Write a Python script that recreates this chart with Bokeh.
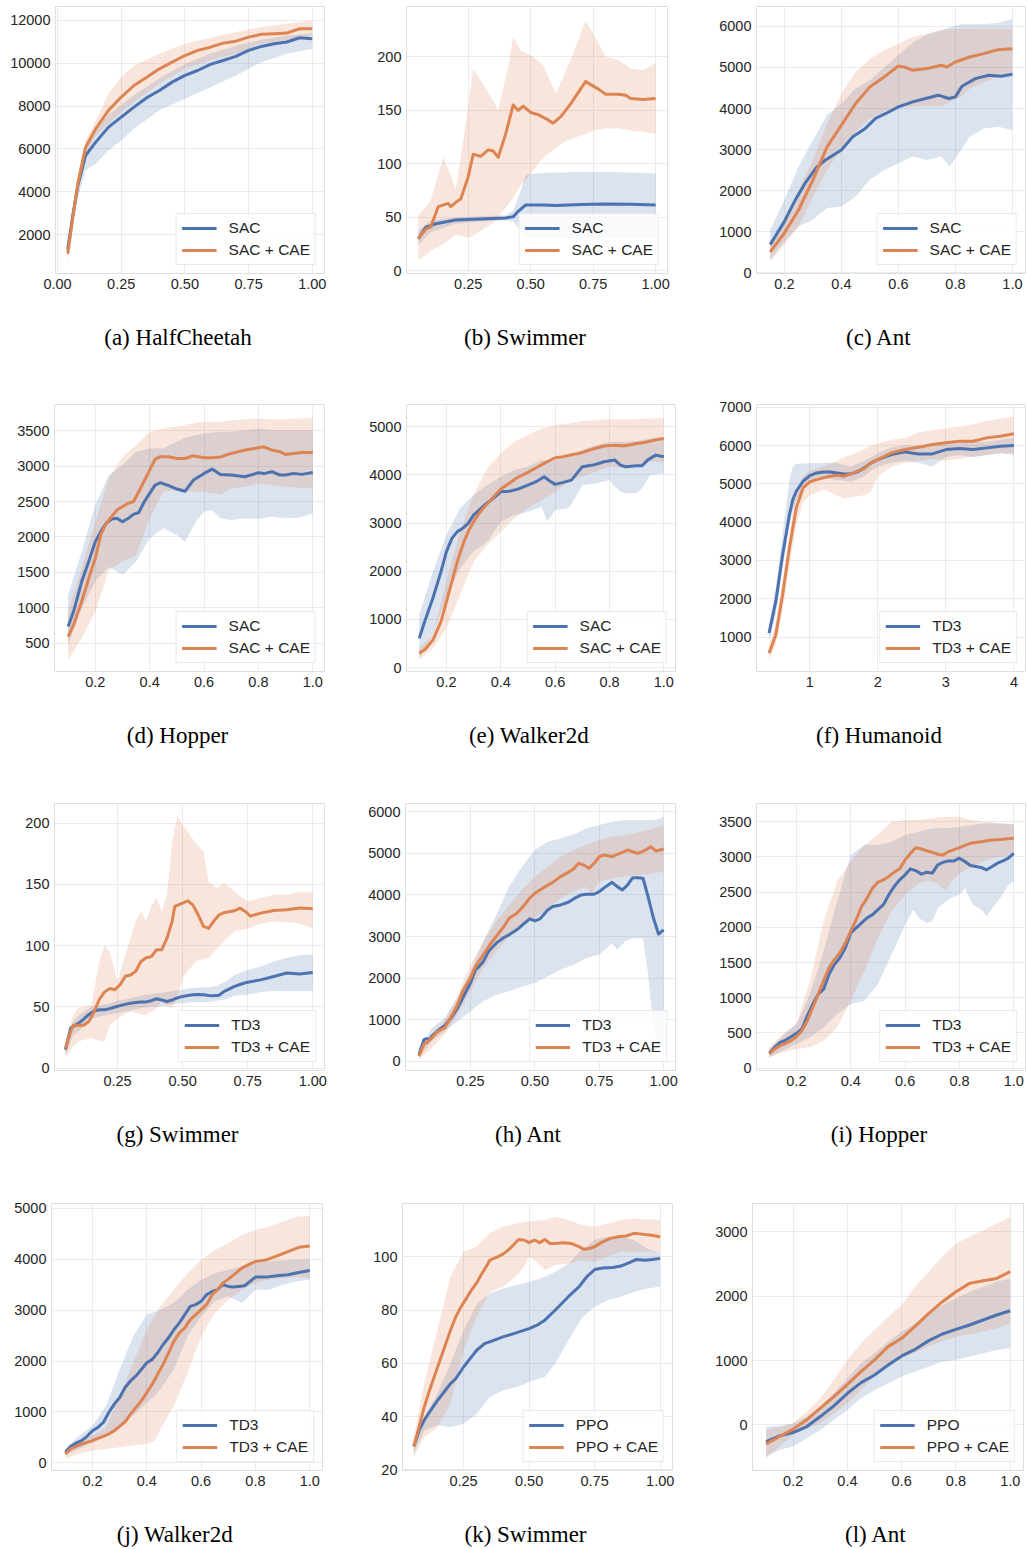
from bokeh.plotting import figure
from bokeh.layouts import column, row
from bokeh.models import Range1d, FixedTicker, NumeralTickFormatter
from bokeh.core.properties import value
from bokeh.embed import file_html
from bokeh.resources import INLINE

BLUE = "#4C72B0"
ORANGE = "#DD8452"
TICK_FONT = "Liberation Sans"
CAP_FONT = "Liberation Serif"

# ---------------- (a) HalfCheetah, SAC ----------------
a_x = [0.04, 0.06, 0.08, 0.11, 0.15, 0.2, 0.25, 0.3, 0.35, 0.4, 0.45, 0.5, 0.55, 0.6, 0.65, 0.7, 0.75, 0.8, 0.85, 0.9, 0.95, 1.0]
a_base = [1330, 2900, 4300, 5690, 6315, 7016, 7483, 7950, 8386, 8730, 9118, 9430, 9660, 9944, 10130, 10318, 10600, 10785, 10910, 10990, 11190, 11140]
a_cae = [1100, 2800, 4400, 6080, 6940, 7800, 8420, 8960, 9350, 9740, 10050, 10360, 10600, 10750, 10940, 11030, 11220, 11350, 11380, 11410, 11610, 11610]
a_bx = [0.04, 0.06, 0.08, 0.11, 0.15, 0.2, 0.25, 0.3, 0.4, 0.5, 0.6, 0.7, 0.8, 0.9, 1.0]
a_base_lo = [900, 2300, 3700, 5000, 5300, 5925, 6390, 6940, 7800, 8340, 8880, 9430, 10050, 10440, 10680]
a_base_hi = [1700, 3300, 4700, 6100, 6900, 7600, 8050, 8500, 9300, 9950, 10450, 10800, 11100, 11300, 11400]
a_cae_lo = [800, 2400, 4000, 5800, 6600, 7170, 7720, 8180, 9040, 9740, 10130, 10440, 10910, 11100, 11300]
a_cae_hi = [1300, 3200, 4800, 6400, 7300, 8570, 9350, 9900, 10440, 10910, 11190, 11455, 11690, 11840, 12000]

# ---------------- (b) Swimmer, SAC ----------------
b_base_x = [0.05, 0.08, 0.12, 0.2, 0.3, 0.4, 0.43, 0.45, 0.48, 0.55, 0.6, 0.7, 0.8, 0.9, 1.0]
b_base = [30, 40.6, 44, 47.5, 48.4, 49.4, 50.6, 55.6, 61.5, 61.5, 61, 62, 62.5, 62.2, 61.5]
b_cae_x = [0.05, 0.08, 0.1, 0.13, 0.17, 0.18, 0.205, 0.22, 0.25, 0.27, 0.3, 0.33, 0.35, 0.37, 0.4, 0.43, 0.45, 0.47, 0.5, 0.53, 0.57, 0.59, 0.62, 0.64, 0.66, 0.7, 0.72, 0.74, 0.77, 0.8, 0.85, 0.88, 0.9, 0.95, 1.0]
b_cae = [30, 39, 41, 60, 63, 60, 65, 67, 88, 109, 107, 113, 112, 106, 128, 155, 150, 154, 148, 146, 141, 138, 144, 150, 156, 170, 177, 174, 170, 165, 165, 164, 161, 160, 161]
b_base_bx = [0.05, 0.1, 0.2, 0.3, 0.4, 0.43, 0.46, 0.48, 0.55, 0.65, 0.75, 0.85, 1.0]
b_base_lo = [24, 36, 44, 46, 47, 46, 38, 31, 31, 30.5, 30.5, 30.5, 30.5]
b_base_hi = [38, 47, 50, 51, 52, 56, 75, 90, 91.5, 92, 92.5, 92, 91]
b_cae_bx = [0.05, 0.1, 0.15, 0.18, 0.2, 0.25, 0.27, 0.3, 0.35, 0.37, 0.41, 0.43, 0.46, 0.5, 0.55, 0.6, 0.63, 0.67, 0.72, 0.75, 0.8, 0.85, 0.9, 0.95, 1.0]
b_cae_lo = [9.4, 18.8, 25, 30, 34, 31, 33, 37.5, 45, 50, 62, 68, 80, 90.6, 106, 115, 120, 124, 128, 131, 133, 133, 131, 130, 128]
b_cae_hi = [51.6, 65.6, 106, 90, 75, 153, 189, 178, 159, 150, 190.6, 218.8, 206, 201.6, 192, 165.6, 181, 203, 234, 222, 200, 197, 189, 187.5, 194]

# ---------------- (c) Ant, SAC ----------------
c_base_x = [0.15, 0.2, 0.24, 0.274, 0.31, 0.344, 0.4, 0.44, 0.484, 0.52, 0.556, 0.6, 0.65, 0.695, 0.74, 0.777, 0.8, 0.823, 0.87, 0.917, 0.96, 1.0]
c_base = [687, 1253, 1800, 2199, 2546, 2748, 2990, 3314, 3516, 3759, 3880, 4042, 4163, 4244, 4325, 4244, 4284, 4543, 4729, 4810, 4786, 4834]
c_cae_x = [0.15, 0.2, 0.25, 0.3, 0.35, 0.4, 0.45, 0.5, 0.55, 0.6, 0.62, 0.65, 0.7, 0.75, 0.77, 0.8, 0.85, 0.9, 0.95, 1.0]
c_cae = [509, 970, 1536, 2264, 3072, 3597, 4123, 4527, 4770, 5036, 5012, 4931, 4972, 5053, 5012, 5133, 5255, 5336, 5433, 5457]
c_bx = [0.15, 0.2, 0.25, 0.3, 0.35, 0.4, 0.45, 0.5, 0.55, 0.6, 0.65, 0.7, 0.75, 0.78, 0.82, 0.85, 0.9, 0.95, 1.0]
c_base_lo = [323, 768, 1132, 1293, 1576, 1617, 1859, 2264, 2506, 2668, 2830, 2749, 2830, 2587, 2991, 3314, 3517, 3557, 3476]
c_base_hi = [1051, 1778, 2587, 3234, 3840, 4123, 4487, 4689, 5000, 5300, 5600, 5800, 5900, 5980, 6050, 6050, 6060, 6080, 6180]
c_cae_lo = [283, 687, 1132, 1859, 2506, 3032, 3436, 3759, 3921, 4042, 4042, 4058, 4058, 4150, 4284, 4487, 4648, 4770, 4810]
c_cae_hi = [728, 1293, 2021, 2749, 3638, 4365, 4891, 5214, 5416, 5578, 5740, 5820, 5917, 5930, 5942, 5942, 5942, 5942, 5942]

# ---------------- (d) Hopper, SAC ----------------
d_x = [0.1, 0.12, 0.15, 0.18, 0.2, 0.22, 0.24, 0.26, 0.28, 0.3, 0.32, 0.34, 0.36, 0.38, 0.4, 0.42, 0.44, 0.47, 0.5, 0.53, 0.56, 0.6, 0.63, 0.66, 0.7, 0.75, 0.8, 0.82, 0.85, 0.88, 0.9, 0.93, 0.96, 1.0]
d_base = [735, 947, 1370, 1699, 1934, 2075, 2193, 2254, 2263, 2216, 2260, 2320, 2345, 2498, 2616, 2733, 2766, 2724, 2677, 2645, 2800, 2898, 2959, 2884, 2874, 2851, 2907, 2895, 2921, 2874, 2874, 2898, 2884, 2912]
d_cae = [594, 759, 1088, 1464, 1699, 2028, 2193, 2287, 2381, 2428, 2475, 2498, 2639, 2790, 2945, 3100, 3133, 3133, 3109, 3109, 3147, 3119, 3119, 3130, 3180, 3227, 3260, 3274, 3227, 3203, 3166, 3180, 3194, 3194]
d_bx = [0.1, 0.15, 0.2, 0.25, 0.3, 0.35, 0.4, 0.45, 0.5, 0.53, 0.57, 0.6, 0.63, 0.66, 0.7, 0.75, 0.8, 0.85, 0.9, 0.95, 1.0]
d_base_lo = [476, 994, 1370, 1581, 1464, 1652, 1981, 2122, 2028, 1934, 2216, 2357, 2381, 2263, 2240, 2263, 2254, 2287, 2263, 2272, 2334]
d_base_hi = [1182, 1793, 2451, 2874, 3015, 3203, 3250, 3250, 3344, 3400, 3440, 3462, 3475, 3485, 3485, 3509, 3532, 3509, 3509, 3509, 3509]
d_cae_lo = [265, 570, 947, 1534, 1652, 1746, 2263, 2639, 2663, 2650, 2639, 2639, 2620, 2601, 2686, 2710, 2757, 2733, 2710, 2696, 2696]
d_cae_hi = [947, 1558, 2216, 2827, 3133, 3297, 3485, 3532, 3556, 3580, 3610, 3626, 3626, 3626, 3650, 3664, 3673, 3664, 3664, 3673, 3683]

# ---------------- (e) Walker2d, SAC ----------------
e_x = [0.1, 0.12, 0.15, 0.18, 0.2, 0.22, 0.24, 0.26, 0.28, 0.3, 0.32, 0.34, 0.36, 0.38, 0.4, 0.43, 0.46, 0.5, 0.53, 0.56, 0.58, 0.6, 0.63, 0.66, 0.68, 0.7, 0.74, 0.78, 0.82, 0.84, 0.86, 0.9, 0.92, 0.94, 0.97, 1.0]
e_base = [609, 954, 1438, 1992, 2407, 2683, 2822, 2891, 2995, 3167, 3271, 3375, 3458, 3548, 3651, 3660, 3700, 3790, 3859, 3963, 3873, 3804, 3845, 3893, 4032, 4170, 4205, 4274, 4308, 4205, 4170, 4191, 4191, 4308, 4412, 4378]
e_cae = [297, 367, 570, 954, 1369, 1784, 2199, 2545, 2822, 3029, 3202, 3340, 3458, 3582, 3707, 3824, 3942, 4053, 4149, 4239, 4300, 4357, 4380, 4420, 4440, 4467, 4540, 4600, 4615, 4606, 4606, 4654, 4670, 4690, 4730, 4758]
e_bx = [0.1, 0.15, 0.2, 0.25, 0.3, 0.35, 0.4, 0.45, 0.5, 0.55, 0.57, 0.58, 0.6, 0.65, 0.68, 0.7, 0.75, 0.8, 0.82, 0.84, 0.86, 0.9, 0.92, 0.95, 1.0]
e_base_lo = [194, 678, 1438, 2061, 2407, 2614, 3029, 3167, 3236, 3340, 3050, 3098, 3271, 3306, 3582, 3790, 3824, 3893, 3755, 3651, 3617, 3617, 3721, 3997, 4032]
e_base_hi = [1093, 1992, 2752, 3306, 3582, 3790, 3963, 4101, 4170, 4308, 4308, 4308, 4308, 4378, 4450, 4516, 4620, 4689, 4689, 4689, 4689, 4703, 4720, 4758, 4758]
e_cae_lo = [159, 401, 816, 1508, 2199, 2545, 2822, 3098, 3306, 3479, 3550, 3580, 3651, 3859, 3920, 3963, 4066, 4170, 4160, 4150, 4140, 4205, 4230, 4274, 4274]
e_cae_hi = [401, 678, 1784, 2822, 3582, 4136, 4447, 4689, 4827, 4965, 4990, 5000, 5035, 5069, 5100, 5118, 5138, 5159, 5159, 5159, 5159, 5159, 5165, 5173, 5187]

# ---------------- (f) Humanoid, TD3 ----------------
f_x = [0.4, 0.5, 0.6, 0.7, 0.75, 0.8, 0.9, 1.0, 1.1, 1.2, 1.3, 1.4, 1.5, 1.6, 1.7, 1.8, 1.9, 2.0, 2.2, 2.4, 2.6, 2.8, 3.0, 3.2, 3.4, 3.6, 3.8, 4.0]
f_base = [1105, 1932, 3152, 4197, 4589, 4807, 5068, 5216, 5286, 5312, 5312, 5286, 5260, 5260, 5312, 5416, 5547, 5634, 5765, 5834, 5782, 5782, 5895, 5922, 5895, 5939, 5983, 6000]
f_cae = [582, 1061, 2106, 3326, 3850, 4371, 4894, 5050, 5111, 5155, 5199, 5225, 5199, 5260, 5330, 5399, 5547, 5634, 5808, 5895, 5956, 6026, 6070, 6113, 6113, 6200, 6244, 6305]
f_bx = [0.4, 0.5, 0.6, 0.7, 0.75, 0.8, 0.9, 1.0, 1.2, 1.4, 1.5, 1.6, 1.8, 1.9, 2.0, 2.2, 2.4, 2.6, 2.8, 3.0, 3.2, 3.4, 3.6, 3.8, 4.0]
f_base_lo = [887, 1600, 2800, 3900, 4300, 4550, 4850, 5050, 5150, 5100, 5080, 5050, 5200, 5350, 5450, 5550, 5600, 5550, 5450, 5700, 5750, 5700, 5750, 5800, 5750]
f_base_hi = [1322, 2300, 3700, 5100, 5450, 5520, 5530, 5540, 5550, 5550, 5500, 5450, 5600, 5700, 5800, 5950, 6000, 6000, 6050, 6100, 6100, 6100, 6100, 6150, 6200]
f_cae_lo = [420, 800, 1700, 2900, 3400, 3900, 4500, 4700, 4850, 4700, 4620, 4650, 4700, 4800, 5200, 5450, 5550, 5600, 5650, 5600, 5650, 5700, 5750, 5800, 5800]
f_cae_hi = [750, 1400, 2500, 3700, 4250, 4800, 5200, 5350, 5450, 5600, 5700, 5750, 5900, 6000, 6050, 6150, 6200, 6350, 6400, 6450, 6500, 6550, 6650, 6700, 6750]

# ---------------- (g) Swimmer, TD3 ----------------
g_x = [0.05, 0.07, 0.08, 0.1, 0.12, 0.14, 0.16, 0.18, 0.2, 0.22, 0.24, 0.26, 0.28, 0.3, 0.32, 0.34, 0.36, 0.38, 0.4, 0.42, 0.44, 0.46, 0.47, 0.5, 0.52, 0.54, 0.56, 0.58, 0.6, 0.62, 0.64, 0.66, 0.7, 0.72, 0.74, 0.76, 0.8, 0.85, 0.9, 0.95, 1.0]
g_base = [15, 32.6, 34, 36.5, 40, 43.8, 46.5, 47.6, 47.6, 48.5, 49.8, 51, 52, 53, 53.5, 54, 54, 55, 56.6, 55.5, 54.4, 55.5, 56.6, 58.5, 59.2, 59.8, 60, 59.8, 59.3, 59, 59.5, 62.6, 66.7, 68.2, 69.6, 70.5, 72, 74.8, 77.6, 76.7, 78]
g_cae = [16, 30, 35, 35, 35, 38, 46, 56, 62, 65, 64, 68, 75, 76, 79, 87, 90, 91, 96.6, 96.6, 106, 120, 132, 134.7, 136.6, 133, 125, 115.6, 114, 120, 125, 127, 128.4, 130.6, 128, 124, 126.5, 128.7, 129.3, 130.6, 130]
g_bx = [0.05, 0.08, 0.1, 0.15, 0.18, 0.2, 0.22, 0.25, 0.28, 0.3, 0.32, 0.34, 0.36, 0.38, 0.4, 0.42, 0.44, 0.46, 0.48, 0.5, 0.52, 0.55, 0.58, 0.6, 0.63, 0.66, 0.7, 0.75, 0.8, 0.85, 0.9, 0.95, 1.0]
g_base_lo = [10, 27, 30, 40, 42, 43, 44, 45, 46, 47, 48, 49, 49.5, 50, 50, 50.5, 51, 52, 53, 53, 53.5, 54, 54, 54, 55, 56, 59, 60, 62, 63, 63, 63, 63]
g_base_hi = [20, 38, 43, 50, 51, 52, 53, 55, 56, 57, 58, 59, 60, 60.5, 61, 61.5, 62, 63, 63.5, 64, 65, 65.5, 66, 66, 67, 70, 76, 80, 83, 87, 90, 92, 93]
g_cae_lo = [8, 18, 21.8, 24.5, 22, 21.8, 35, 40.8, 44, 46, 45, 44, 43.5, 46, 49, 55, 50, 49, 57, 73.5, 79, 87, 89, 90, 97, 104, 111.6, 114, 118, 119.7, 119, 118, 114]
g_cae_hi = [21.8, 43.5, 49, 51.7, 87, 100.7, 95, 70.7, 92.5, 106, 119.7, 128, 120, 133, 138.8, 128, 141.5, 185, 206, 198.6, 193, 183.7, 177, 152, 147, 151, 144, 136, 138.8, 141.5, 141.5, 144, 144]

# ---------------- (h) Ant, TD3 ----------------
h_base_x = [0.05, 0.07, 0.08, 0.09, 0.1, 0.12, 0.15, 0.18, 0.2, 0.22, 0.25, 0.27, 0.28, 0.3, 0.32, 0.35, 0.38, 0.4, 0.43, 0.46, 0.48, 0.5, 0.52, 0.55, 0.57, 0.6, 0.63, 0.65, 0.68, 0.7, 0.73, 0.75, 0.77, 0.8, 0.82, 0.84, 0.86, 0.88, 0.9, 0.92, 0.94, 0.96, 0.98, 1.0]
h_base = [160, 520, 544, 520, 600, 720, 856, 1080, 1280, 1520, 1880, 2200, 2256, 2400, 2640, 2840, 2976, 3040, 3160, 3320, 3424, 3376, 3424, 3640, 3720, 3760, 3824, 3904, 4000, 4016, 4016, 4080, 4176, 4304, 4200, 4120, 4240, 4416, 4416, 4400, 3950, 3450, 3060, 3160]
h_cae_x = [0.05, 0.07, 0.08, 0.1, 0.12, 0.15, 0.18, 0.2, 0.22, 0.25, 0.27, 0.3, 0.33, 0.36, 0.38, 0.4, 0.43, 0.46, 0.48, 0.5, 0.52, 0.54, 0.57, 0.6, 0.63, 0.65, 0.67, 0.69, 0.71, 0.73, 0.75, 0.77, 0.8, 0.83, 0.86, 0.88, 0.9, 0.93, 0.95, 0.97, 1.0]
h_cae = [120, 416, 440, 560, 704, 800, 1120, 1360, 1680, 2000, 2280, 2560, 2840, 3080, 3240, 3440, 3560, 3760, 3920, 4040, 4120, 4200, 4304, 4440, 4544, 4624, 4760, 4720, 4640, 4760, 4920, 4960, 4920, 5000, 5080, 5040, 5000, 5080, 5160, 5056, 5104]
h_bx = [0.05, 0.1, 0.15, 0.2, 0.25, 0.3, 0.35, 0.4, 0.45, 0.5, 0.55, 0.6, 0.65, 0.7, 0.72, 0.75, 0.8, 0.82, 0.85, 0.88, 0.92, 0.94, 0.96, 0.98, 1.0]
h_base_lo = [80, 480, 720, 960, 1200, 1440, 1600, 1680, 1800, 1880, 2040, 2200, 2320, 2480, 2520, 2560, 2840, 2680, 2880, 2960, 2960, 2080, 800, 320, 480]
h_base_hi = [240, 800, 1040, 1520, 2160, 2880, 3520, 4200, 4680, 5080, 5280, 5360, 5456, 5600, 5640, 5680, 5760, 5780, 5800, 5800, 5800, 5800, 5800, 5820, 5880]
h_cae_lo = [40, 320, 640, 1120, 1680, 2240, 2640, 3000, 3240, 3440, 3680, 3920, 4080, 4200, 4000, 4320, 4400, 4420, 4440, 4460, 4490, 4500, 4520, 4540, 4560]
h_cae_hi = [240, 640, 960, 1600, 2320, 2880, 3360, 3760, 4120, 4440, 4680, 4920, 5080, 5200, 5250, 5320, 5400, 5420, 5440, 5480, 5540, 5560, 5600, 5640, 5680]

# ---------------- (i) Hopper, TD3 ----------------
i_x = [0.1, 0.12, 0.14, 0.16, 0.18, 0.2, 0.22, 0.24, 0.26, 0.28, 0.3, 0.32, 0.34, 0.36, 0.38, 0.4, 0.42, 0.44, 0.46, 0.48, 0.5, 0.52, 0.54, 0.56, 0.58, 0.6, 0.62, 0.64, 0.66, 0.68, 0.7, 0.72, 0.74, 0.76, 0.78, 0.8, 0.82, 0.84, 0.86, 0.88, 0.9, 0.92, 0.94, 0.96, 0.98, 1.0]
i_base = [212, 297, 367, 400, 447, 495, 556, 744, 909, 1050, 1121, 1333, 1474, 1569, 1710, 1922, 1992, 2063, 2134, 2181, 2252, 2322, 2464, 2581, 2675, 2746, 2831, 2803, 2756, 2784, 2770, 2887, 2925, 2944, 2944, 2982, 2935, 2878, 2864, 2850, 2817, 2864, 2911, 2944, 2982, 3052]
i_cae = [203, 273, 320, 353, 391, 447, 532, 674, 862, 1050, 1239, 1427, 1545, 1639, 1780, 1945, 2110, 2299, 2416, 2558, 2642, 2675, 2723, 2784, 2831, 2958, 3052, 3132, 3114, 3085, 3066, 3038, 3029, 3076, 3104, 3132, 3163, 3194, 3205, 3217, 3229, 3241, 3245, 3250, 3257, 3264]
i_bx = [0.1, 0.15, 0.2, 0.25, 0.3, 0.35, 0.4, 0.45, 0.5, 0.55, 0.6, 0.63, 0.65, 0.68, 0.7, 0.72, 0.75, 0.77, 0.8, 0.82, 0.85, 0.88, 0.9, 0.93, 0.95, 0.98, 1.0]
i_base_lo = [155, 250, 344, 438, 579, 768, 909, 956, 1192, 1616, 2040, 2252, 2134, 2063, 2087, 2275, 2370, 2420, 2464, 2558, 2322, 2252, 2157, 2322, 2416, 2605, 2652]
i_base_hi = [273, 462, 626, 1050, 1663, 2369, 3029, 3170, 3170, 3217, 3311, 3340, 3358, 3390, 3406, 3406, 3406, 3415, 3429, 3440, 3453, 3470, 3476, 3476, 3476, 3470, 3462]
i_cae_lo = [155, 226, 273, 297, 391, 579, 956, 1380, 1851, 2228, 2464, 2560, 2628, 2660, 2652, 2620, 2511, 2652, 2770, 2810, 2864, 2920, 2958, 2990, 3005, 3020, 3029]
i_cae_hi = [297, 485, 626, 1239, 2087, 2652, 2935, 3170, 3311, 3500, 3523, 3523, 3523, 3540, 3547, 3560, 3570, 3570, 3570, 3550, 3523, 3505, 3500, 3485, 3476, 3465, 3462]

# ---------------- (j) Walker2d, TD3 ----------------
j_base_x = [0.1, 0.12, 0.14, 0.16, 0.18, 0.2, 0.22, 0.24, 0.26, 0.28, 0.3, 0.32, 0.34, 0.36, 0.38, 0.4, 0.42, 0.44, 0.46, 0.48, 0.5, 0.52, 0.54, 0.56, 0.58, 0.6, 0.62, 0.64, 0.66, 0.68, 0.7, 0.72, 0.76, 0.8, 0.84, 0.88, 0.92, 0.96, 1.0]
j_base = [209, 326, 391, 437, 522, 632, 698, 795, 991, 1154, 1284, 1480, 1610, 1708, 1838, 1969, 2034, 2164, 2327, 2458, 2621, 2751, 2914, 3077, 3110, 3175, 3305, 3370, 3403, 3501, 3468, 3455, 3481, 3651, 3651, 3677, 3696, 3742, 3781]
j_cae_x = [0.1, 0.12, 0.14, 0.16, 0.18, 0.2, 0.22, 0.24, 0.26, 0.28, 0.3, 0.32, 0.34, 0.36, 0.38, 0.4, 0.42, 0.44, 0.46, 0.48, 0.5, 0.52, 0.54, 0.56, 0.58, 0.6, 0.62, 0.64, 0.66, 0.68, 0.7, 0.72, 0.75, 0.78, 0.8, 0.84, 0.88, 0.92, 0.96, 1.0]
j_cae = [176, 274, 326, 372, 404, 437, 482, 522, 567, 632, 717, 808, 958, 1089, 1219, 1382, 1545, 1741, 1936, 2164, 2392, 2555, 2653, 2816, 2914, 3012, 3110, 3305, 3403, 3533, 3611, 3696, 3827, 3911, 3957, 3990, 4068, 4153, 4237, 4263]
j_bx = [0.1, 0.15, 0.2, 0.25, 0.3, 0.35, 0.4, 0.43, 0.45, 0.5, 0.55, 0.6, 0.65, 0.7, 0.75, 0.8, 0.85, 0.9, 0.95, 1.0]
j_base_lo = [143, 274, 404, 535, 730, 926, 1186, 1330, 1447, 1838, 2490, 2881, 3175, 3272, 3142, 3403, 3403, 3501, 3566, 3598]
j_base_hi = [274, 535, 730, 1121, 1838, 2490, 2914, 2970, 3012, 3142, 3403, 3598, 3729, 3794, 3859, 3924, 3957, 3977, 3990, 3990]
j_cae_lo = [78, 176, 241, 274, 306, 339, 372, 437, 665, 1121, 1773, 2490, 2947, 3207, 3403, 3533, 3598, 3631, 3651, 3631]
j_cae_hi = [274, 437, 535, 698, 1317, 1969, 2621, 2900, 3077, 3403, 3729, 3990, 4185, 4315, 4479, 4576, 4642, 4739, 4837, 4850]

# ---------------- (k) Swimmer, PPO ----------------
k_base_x = [0.06, 0.08, 0.1, 0.12, 0.15, 0.18, 0.2, 0.22, 0.25, 0.28, 0.3, 0.33, 0.36, 0.4, 0.45, 0.5, 0.53, 0.56, 0.6, 0.63, 0.66, 0.69, 0.72, 0.75, 0.78, 0.82, 0.85, 0.88, 0.91, 0.94, 0.97, 1.0]
k_base = [28.8, 34.8, 38.6, 41.7, 46, 49.8, 52.4, 54.2, 58.6, 62.4, 64.9, 67.4, 68.4, 69.9, 71.4, 73, 74.3, 76.2, 80, 83, 86, 88.7, 92.5, 95.2, 95.8, 96, 96.5, 97.7, 99, 98.7, 99, 99.4]
k_cae_x = [0.06, 0.08, 0.1, 0.12, 0.14, 0.16, 0.18, 0.2, 0.22, 0.24, 0.26, 0.28, 0.3, 0.32, 0.34, 0.35, 0.38, 0.4, 0.42, 0.44, 0.46, 0.48, 0.5, 0.52, 0.54, 0.56, 0.58, 0.6, 0.63, 0.66, 0.69, 0.71, 0.73, 0.75, 0.78, 0.81, 0.84, 0.87, 0.9, 0.93, 0.96, 1.0]
k_cae = [28.8, 36, 43.6, 49.8, 55.5, 61.1, 66.8, 72.4, 77.4, 81.2, 84.3, 87.5, 90.2, 93.7, 96.9, 98.7, 100, 101, 102.5, 104.4, 106.5, 106.3, 105.3, 106.3, 105.3, 106.5, 105, 105, 105.3, 105, 103.8, 102.8, 103.1, 103.8, 105.6, 106.9, 107.5, 107.8, 108.8, 108.5, 108.2, 107.5]
k_bx = [0.06, 0.1, 0.15, 0.2, 0.25, 0.3, 0.35, 0.4, 0.45, 0.48, 0.5, 0.53, 0.56, 0.6, 0.65, 0.7, 0.75, 0.8, 0.85, 0.9, 0.95, 1.0]
k_base_lo = [26, 34.8, 36.7, 36, 37.3, 41, 47.3, 49.8, 51, 52, 53, 54, 54.9, 59.9, 68.7, 76.8, 81.2, 83.7, 85, 86.8, 88.1, 88.7]
k_base_hi = [31, 39.8, 48.6, 59.9, 72.4, 82.4, 86.2, 88.1, 89.3, 90, 90.6, 91.5, 92.5, 94.4, 97.5, 102.5, 106.3, 107.5, 107.5, 106.3, 103.1, 101.3]
k_cae_lo = [24.8, 32.3, 36, 44.8, 64.9, 77.4, 86.8, 88.7, 92.5, 96.2, 100, 98.1, 95, 96.9, 97.5, 98.7, 98.1, 100, 101.9, 101.9, 101.9, 101.5]
k_cae_hi = [32.3, 52.4, 72.4, 92.5, 101.9, 103.8, 108.8, 111.3, 112.5, 113, 113.2, 113.5, 113.8, 115, 113.8, 111.9, 111.3, 112.5, 113.8, 114.4, 114, 114]

# ---------------- (l) Ant, PPO ----------------
l_x = [0.1, 0.15, 0.2, 0.25, 0.3, 0.35, 0.4, 0.45, 0.5, 0.55, 0.6, 0.65, 0.7, 0.75, 0.8, 0.85, 0.9, 0.95, 1.0]
l_base = [-259, -171, -119, -26, 129, 295, 491, 657, 776, 931, 1071, 1174, 1309, 1412, 1485, 1552, 1630, 1707, 1774]
l_cae = [-295, -181, -67, 78, 259, 440, 631, 828, 1009, 1216, 1345, 1536, 1733, 1914, 2069, 2199, 2240, 2276, 2380]
l_base_lo = [-491, -388, -336, -207, -78, 78, 233, 414, 543, 647, 750, 828, 905, 983, 1009, 1061, 1112, 1164, 1190]
l_base_hi = [-26, -16, 26, 129, 285, 491, 724, 957, 1112, 1293, 1449, 1578, 1733, 1862, 1966, 2069, 2147, 2225, 2276]
l_cae_lo = [-517, -330, -155, -60, 26, 180, 336, 540, 750, 900, 1035, 1130, 1216, 1300, 1371, 1410, 1449, 1500, 1578]
l_cae_hi = [-78, -36, 26, 207, 414, 698, 1009, 1267, 1474, 1681, 1862, 2147, 2380, 2613, 2819, 2923, 3026, 3130, 3233]

# ---------------- labels / ticks ----------------
captions = ["(a) HalfCheetah", "(b) Swimmer", "(c) Ant", "(d) Hopper", "(e) Walker2d", "(f) Humanoid",
            "(g) Swimmer", "(h) Ant", "(i) Hopper", "(j) Walker2d", "(k) Swimmer", "(l) Ant"]
methods = ["SAC", "SAC", "SAC", "SAC", "SAC", "TD3", "TD3", "TD3", "TD3", "TD3", "PPO", "PPO"]

ticks_x_q = [0.0, 0.25, 0.5, 0.75, 1.0]
ticks_x_f = [0.2, 0.4, 0.6, 0.8, 1.0]
ticks_x_h = [1, 2, 3, 4]
ticks_y = [
    [2000, 4000, 6000, 8000, 10000, 12000],
    [0, 50, 100, 150, 200],
    [0, 1000, 2000, 3000, 4000, 5000, 6000],
    [500, 1000, 1500, 2000, 2500, 3000, 3500],
    [0, 1000, 2000, 3000, 4000, 5000],
    [1000, 2000, 3000, 4000, 5000, 6000, 7000],
    [0, 50, 100, 150, 200],
    [0, 1000, 2000, 3000, 4000, 5000, 6000],
    [0, 500, 1000, 1500, 2000, 2500, 3000, 3500],
    [0, 1000, 2000, 3000, 4000, 5000],
    [20, 40, 60, 80, 100],
    [0, 1000, 2000, 3000],
]

series = [
    (a_x, a_base, a_x, a_cae, a_bx, a_base_lo, a_base_hi, a_bx, a_cae_lo, a_cae_hi),
    (b_base_x, b_base, b_cae_x, b_cae, b_base_bx, b_base_lo, b_base_hi, b_cae_bx, b_cae_lo, b_cae_hi),
    (c_base_x, c_base, c_cae_x, c_cae, c_bx, c_base_lo, c_base_hi, c_bx, c_cae_lo, c_cae_hi),
    (d_x, d_base, d_x, d_cae, d_bx, d_base_lo, d_base_hi, d_bx, d_cae_lo, d_cae_hi),
    (e_x, e_base, e_x, e_cae, e_bx, e_base_lo, e_base_hi, e_bx, e_cae_lo, e_cae_hi),
    (f_x, f_base, f_x, f_cae, f_bx, f_base_lo, f_base_hi, f_bx, f_cae_lo, f_cae_hi),
    (g_x, g_base, g_x, g_cae, g_bx, g_base_lo, g_base_hi, g_bx, g_cae_lo, g_cae_hi),
    (h_base_x, h_base, h_cae_x, h_cae, h_bx, h_base_lo, h_base_hi, h_bx, h_cae_lo, h_cae_hi),
    (i_x, i_base, i_x, i_cae, i_bx, i_base_lo, i_base_hi, i_bx, i_cae_lo, i_cae_hi),
    (j_base_x, j_base, j_cae_x, j_cae, j_bx, j_base_lo, j_base_hi, j_bx, j_cae_lo, j_cae_hi),
    (k_base_x, k_base, k_cae_x, k_cae, k_bx, k_base_lo, k_base_hi, k_bx, k_cae_lo, k_cae_hi),
    (l_x, l_base, l_x, l_cae, l_x, l_base_lo, l_base_hi, l_x, l_cae_lo, l_cae_hi),
]

# ---------------- layout (positions, axis extents) ----------------
X_RANGES = [(-0.008, 1.048), (0.003, 1.0475), (0.102, 1.046),
            (0.05, 1.043), (0.053, 1.043), (0.216, 4.17),
            (0.008, 1.045), (-0.002, 1.046), (0.053, 1.043),
            (0.049, 1.047), (0.017, 1.047), (0.05, 1.049)]
Y_RANGES = [(180, 12650), (-2.5, 247), (-16, 6484),
            (100, 3871), (-83, 5463), (103, 7071),
            (-2, 216), (-224, 6200), (-33, 3759),
            (-150, 5098), (19.75, 120), (-709, 3440)]
X_TICKS = [ticks_x_q, ticks_x_q[1:], ticks_x_f, ticks_x_f, ticks_x_f, ticks_x_h,
           ticks_x_q[1:], ticks_x_q[1:], ticks_x_f, ticks_x_f, ticks_x_q[1:], ticks_x_f]
X_FMT = ["0.00", "0.00", "0.0", "0.0", "0.0", "0", "0.00", "0.00", "0.0", "0.0", "0.00", "0.0"]

FRAMES = [(55, 324), (406, 667), (756, 1025),
          (54, 324), (406, 675), (756, 1025),
          (54, 324), (405, 675), (756, 1025),
          (51, 322), (402, 672), (752, 1023)]
COL_X = [0, 343, 686, 1028]
ROW_H = [390, 399, 400, 360]
ROW_TOP = [6, 14, 14, 14]
FRAME_H = 267
AX_B = 40          # room below frame for the x tick labels
CAP_GAP = 64       # caption centre below frame bottom


def make_panel(idx):
    c = idx % 3
    r = idx // 3
    L, R = FRAMES[idx]
    x0, x1 = COL_X[c], COL_X[c + 1]
    top = ROW_TOP[r]
    H = top + FRAME_H + AX_B
    p = figure(width=x1 - x0, height=H,
               x_range=Range1d(*X_RANGES[idx]), y_range=Range1d(*Y_RANGES[idx]),
               output_backend="svg", toolbar_location=None, title=None,
               min_border_left=L - x0, min_border_right=x1 - R,
               min_border_top=top, min_border_bottom=AX_B)
    p.background_fill_color = "white"
    p.border_fill_color = "white"
    p.outline_line_color = "#dedede"
    p.outline_line_width = 1

    sx, sy, cx, cy, sbx, slo, shi, cbx, clo, chi = series[idx]
    p.varea(x=sbx, y1=slo, y2=shi, fill_color=BLUE, fill_alpha=0.2)
    p.varea(x=cbx, y1=clo, y2=chi, fill_color=ORANGE, fill_alpha=0.2)
    m = methods[idx]
    p.line(sx, sy, line_color=BLUE, line_width=3, line_join="round", legend_label=m)
    p.line(cx, cy, line_color=ORANGE, line_width=3, line_join="round", legend_label=m + " + CAE")

    p.xaxis.ticker = FixedTicker(ticks=X_TICKS[idx])
    p.xaxis.formatter = NumeralTickFormatter(format=X_FMT[idx])
    p.yaxis.ticker = FixedTicker(ticks=ticks_y[idx])
    p.yaxis.formatter = NumeralTickFormatter(format="0")
    for ax in (p.xaxis[0], p.yaxis[0]):
        ax.axis_line_color = None
        ax.major_tick_line_color = None
        ax.minor_tick_line_color = None
        ax.major_tick_out = 0
        ax.major_tick_in = 0
        ax.major_label_text_font = TICK_FONT
        ax.major_label_text_font_size = "14.5px"
        ax.major_label_text_color = "#262626"
        ax.major_label_standoff = 5
    p.xgrid.grid_line_color = "#ebebeb"
    p.ygrid.grid_line_color = "#ebebeb"

    lg = p.legend[0]
    lg.location = "bottom_right"
    lg.margin = 8
    lg.padding = 5
    lg.spacing = 4
    lg.glyph_width = 35
    lg.glyph_height = 18
    lg.label_height = 18
    lg.label_standoff = 12
    lg.label_text_font = TICK_FONT
    lg.label_text_font_size = "15.5px"
    lg.label_text_color = "#262626"
    lg.border_line_color = "#d6d6d6"
    lg.border_line_width = 1
    lg.background_fill_color = "white"
    lg.background_fill_alpha = 0.8
    return p


def make_caption(idx):
    c = idx % 3
    r = idx // 3
    L, R = FRAMES[idx]
    x0, x1 = COL_X[c], COL_X[c + 1]
    w = x1 - x0
    h = ROW_H[r] - ROW_TOP[r] - FRAME_H - AX_B
    q = figure(width=w, height=h, x_range=Range1d(0, w), y_range=Range1d(h, 0),
               output_backend="svg", toolbar_location=None, title=None,
               x_axis_type=None, y_axis_type=None,
               min_border_left=0, min_border_right=0, min_border_top=0, min_border_bottom=0)
    q.outline_line_color = None
    q.background_fill_color = "white"
    q.border_fill_color = "white"
    q.text(x=[(L - x0) + (R - L) / 2 - 12], y=[CAP_GAP - AX_B], text=[captions[idx]],
           text_font=value(CAP_FONT), text_font_size=value("23px"), text_color="black",
           text_align="center", text_baseline="middle")
    return q


rows = []
for r in range(4):
    rows.append(row(*[make_panel(3 * r + k) for k in range(3)]))
    rows.append(row(*[make_caption(3 * r + k) for k in range(3)]))
layout = column(*rows)
open("out.html", "w").write(file_html(layout, INLINE))
